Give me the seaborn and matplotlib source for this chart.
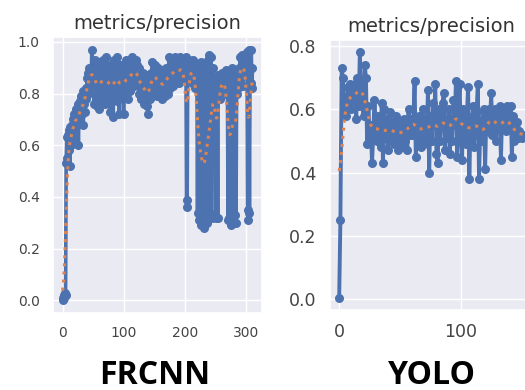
import numpy as np
import pandas as pd
import matplotlib
matplotlib.use("Agg")
import matplotlib.pyplot as plt
import seaborn as sns

# ---------------- data ----------------
frcnn_precision = [
    0.01, 0.00, 0.02, 0.01, 0.03, 0.02,
    0.53, 0.63, 0.55, 0.64, 0.58, 0.66, 0.52, 0.67, 0.60, 0.68, 0.62, 0.70, 0.66, 0.72,
    0.64, 0.70, 0.74, 0.68, 0.72, 0.76, 0.60, 0.73, 0.77, 0.70, 0.74, 0.79, 0.72, 0.81,
    0.68, 0.76, 0.80, 0.73, 0.82, 0.78, 0.86, 0.80, 0.88, 0.84, 0.90, 0.82, 0.87, 0.85,
    0.97, 0.88,
    0.84, 0.91, 0.76, 0.88, 0.93, 0.79, 0.86, 0.75, 0.90, 0.83,
    0.74, 0.88, 0.92, 0.80, 0.86, 0.77, 0.93, 0.84, 0.89, 0.76,
    0.85, 0.94, 0.80, 0.87, 0.78, 0.91, 0.83, 0.88, 0.73, 0.86,
    0.90, 0.79, 0.84, 0.71, 0.88, 0.93, 0.80, 0.86, 0.92, 0.77,
    0.94, 0.83, 0.88, 0.72, 0.85, 0.91, 0.79, 0.87, 0.84, 0.90,
    0.72, 0.86, 0.80, 0.89, 0.93, 0.82, 0.87, 0.78, 0.91, 0.85,
    0.88, 0.81, 0.90, 0.84, 0.94, 0.87, 0.92, 0.83, 0.89, 0.86,
    0.93, 0.88, 0.91, 0.84, 0.87, 0.80, 0.90, 0.83, 0.86, 0.78,
    0.84, 0.88, 0.79, 0.85, 0.76, 0.82, 0.87, 0.80, 0.75, 0.84,
    0.72, 0.81, 0.86, 0.78, 0.83, 0.88, 0.80, 0.92, 0.85, 0.89,
    0.82, 0.87, 0.91, 0.84, 0.88, 0.79, 0.86, 0.90, 0.83, 0.87,
    0.80, 0.85, 0.89, 0.78, 0.84, 0.81, 0.88, 0.79, 0.86, 0.83,
    0.90, 0.84, 0.88, 0.80, 0.94, 0.86, 0.82, 0.89, 0.85, 0.91,
    0.87, 0.83, 0.92, 0.88, 0.94, 0.85, 0.90, 0.87, 0.93, 0.89,
    0.84, 0.91, 0.86, 0.94, 0.88, 0.92, 0.85, 0.90, 0.87, 0.93,
    0.90, 0.86, 0.94, 0.39, 0.36, 0.91, 0.88, 0.93, 0.85, 0.90,
    0.87, 0.92, 0.84, 0.89, 0.93, 0.86, 0.90, 0.82, 0.88, 0.91,
    0.85, 0.34, 0.88, 0.31, 0.80, 0.33, 0.92, 0.29, 0.86, 0.30,
    0.32, 0.89, 0.28, 0.35, 0.90, 0.31, 0.84, 0.30, 0.93, 0.33,
    0.95, 0.34, 0.88, 0.94, 0.32, 0.86, 0.90, 0.80, 0.85, 0.82,
    0.78, 0.32, 0.84, 0.80, 0.32, 0.87, 0.81, 0.85, 0.78, 0.86,
    0.83, 0.88, 0.84, 0.80, 0.87, 0.85, 0.82, 0.86, 0.89, 0.84,
    0.80, 0.31, 0.84, 0.32, 0.88, 0.29, 0.85, 0.90, 0.31, 0.80,
    0.87, 0.83, 0.33, 0.86, 0.30, 0.80, 0.84, 0.82, 0.86, 0.90,
    0.88, 0.94, 0.86, 0.92, 0.95, 0.83, 0.90, 0.95, 0.88, 0.92,
    0.95, 0.90, 0.96, 0.35, 0.31, 0.97, 0.34, 0.90, 0.84, 0.97,
    0.82, 0.90,
]

yolo_precision = [
    0.005, 0.25, 0.73, 0.70, 0.60, 0.64, 0.58, 0.67, 0.62, 0.68,
    0.60, 0.66, 0.63, 0.68, 0.57, 0.70, 0.61, 0.78, 0.63, 0.66,
    0.58, 0.74, 0.70, 0.49, 0.61, 0.52, 0.55, 0.43, 0.52, 0.63,
    0.55, 0.50, 0.58, 0.52, 0.48, 0.62, 0.43, 0.60, 0.51, 0.57,
    0.47, 0.55, 0.59, 0.50, 0.56, 0.49, 0.53, 0.58, 0.47, 0.52,
    0.56, 0.48, 0.54, 0.57, 0.50, 0.55, 0.47, 0.60, 0.52, 0.57,
    0.52, 0.57, 0.69, 0.45, 0.55, 0.50, 0.58, 0.48, 0.54, 0.60,
    0.49, 0.56, 0.52, 0.66, 0.40, 0.58, 0.50, 0.62, 0.55, 0.68,
    0.46, 0.43, 0.60, 0.50, 0.57, 0.62, 0.65, 0.47, 0.56, 0.51,
    0.60, 0.46, 0.57, 0.50, 0.63, 0.55, 0.69, 0.45, 0.58, 0.68,
    0.53, 0.44, 0.60, 0.55, 0.49, 0.58, 0.67, 0.38, 0.56, 0.52,
    0.61, 0.48, 0.56, 0.59, 0.68, 0.38, 0.55, 0.50, 0.57, 0.60,
    0.41, 0.58, 0.53, 0.60, 0.56, 0.65, 0.52, 0.55, 0.60, 0.50,
    0.58, 0.54, 0.61, 0.44, 0.59, 0.56, 0.60, 0.53, 0.61, 0.57,
    0.55, 0.61, 0.45, 0.58, 0.50, 0.54, 0.56, 0.51, 0.53, 0.52,
    0.51, 0.52,
]

title_text = "metrics/precision"
model_names = ["FRCNN", "YOLO"]


def gauss_smooth(y, sigma=3.0):
    y = np.asarray(y, dtype=float)
    r = int(4 * sigma + 0.5)
    k = np.exp(-0.5 * (np.arange(-r, r + 1) / sigma) ** 2)
    k /= k.sum()
    yp = np.pad(y, r, mode="symmetric")
    return np.convolve(yp, k, mode="valid")


sns.set_theme(style="darkgrid")
plt.rcParams["font.family"] = ["DejaVu Sans"]

W, H = 525, 390
fig = plt.figure(figsize=(W / 100, H / 100), dpi=100)

blue = sns.color_palette("deep")[0]
orange = sns.color_palette("deep")[1]


def px_axes(left, top, right, bottom):
    return fig.add_axes([left / W, 1 - bottom / H, (right - left) / W, (bottom - top) / H])


ax1 = px_axes(53, 37, 262, 313)
ax2 = px_axes(330, 40, 532, 310)

panels = [
    (ax1, frcnn_precision, 6.5, 2.6, 10),
    (ax2, yolo_precision, 6.5, 2.8, 12.5),
]

for ax, vals, ms, lw, tfs in panels:
    df = pd.DataFrame({"epoch": np.arange(len(vals)), "value": vals})
    df["smooth"] = gauss_smooth(df["value"].values, 3)
    sns.lineplot(data=df, x="epoch", y="value", ax=ax, color=blue, marker="o",
                 markersize=ms, markeredgewidth=0, linewidth=lw)
    sns.lineplot(data=df, x="epoch", y="smooth", ax=ax, color=orange,
                 linestyle=":", linewidth=2.2)
    ax.set_xlabel("")
    ax.set_ylabel("")
    ax.set_title(title_text, fontsize=14, color="#333333")
    ax.tick_params(labelsize=tfs, colors="#444444")

ax1.set_xticks([0, 100, 200, 300])
ax1.set_yticks([0.0, 0.2, 0.4, 0.6, 0.8, 1.0])
ax2.set_xticks([0, 100])
ax2.set_yticks([0.0, 0.2, 0.4, 0.6, 0.8])

for name, cx in zip(model_names, [155, 432]):
    fig.text(cx / W, 1 - 375 / H, name, ha="center", va="center",
             fontsize=23, fontweight="bold", family=["Open Sans", "DejaVu Sans"], color="black")

fig.savefig("out.png", dpi=100)
